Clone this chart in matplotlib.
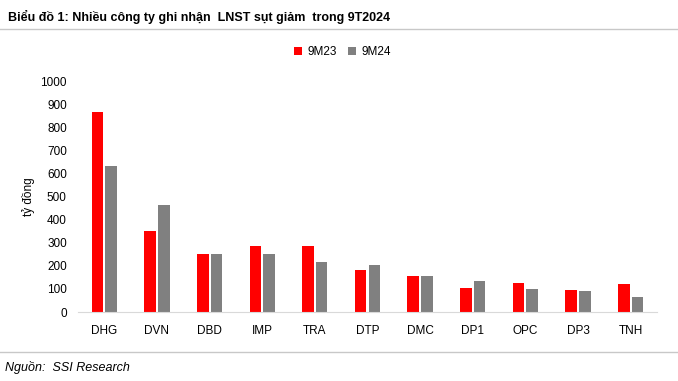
import numpy as np
import matplotlib.pyplot as plt
from matplotlib import font_manager

companies = ['DHG', 'DVN', 'DBD', 'IMP', 'TRA', 'DTP', 'DMC', 'DP1', 'OPC', 'DP3', 'TNH']
profit_9m23 = [868, 352, 252, 285, 285, 181, 157, 105, 124, 95, 120]
profit_9m24 = [635, 466, 252, 252, 218, 204, 157, 133, 100, 90, 66]
y_ticks = [0, 100, 200, 300, 400, 500, 600, 700, 800, 900, 1000]

names = {f.name for f in font_manager.fontManager.ttflist}
narrow = 'Liberation Sans Narrow' if 'Liberation Sans Narrow' in names else 'Liberation Sans'
plt.rcParams['font.family'] = [narrow, 'DejaVu Sans']

fig = plt.figure(figsize=(6.78, 3.81), dpi=100)
ax = fig.add_axes([0.115, 0.181, 0.854, 0.605])

x = np.arange(len(companies))
w = 0.22
ax.bar(x - 0.13, profit_9m23, w, color='#ff0000', label='9M23')
ax.bar(x + 0.13, profit_9m24, w, color='#808080', label='9M24')

ax.set_xlim(-0.5, len(companies) - 0.5)
ax.set_ylim(0, 1000)
ax.set_yticks(y_ticks)
ax.set_xticks(x)
ax.set_xticklabels(companies)
ax.tick_params(axis='both', length=0, labelsize=8.5, colors='black')
ax.tick_params(axis='x', pad=9)
ax.tick_params(axis='y', pad=8)
for s in ['top', 'right', 'left']:
    ax.spines[s].set_visible(False)
ax.spines['bottom'].set_color('#d9d9d9')
ax.set_ylabel('tỷ đồng', fontsize=8.5)
ax.yaxis.set_label_coords(-0.075, 0.5)

fig.legend(loc='center', bbox_to_anchor=(0.505, 0.864), ncol=2, frameon=False,
           fontsize=8.5, handlelength=0.7, handleheight=0.7, columnspacing=1.0, handletextpad=0.4)

fig.text(0.012, 0.955, 'Biểu đồ 1: Nhiều công ty ghi nhận  LNST sụt giảm  trong 9T2024',
         fontsize=9, fontweight='bold', va='center')
fig.add_artist(plt.Line2D([0, 1], [0.923, 0.923], color='#c8c8c8', lw=1))
fig.add_artist(plt.Line2D([0, 1], [0.076, 0.076], color='#c8c8c8', lw=1))
fig.text(0.008, 0.035, 'Nguồn:  SSI Research', fontsize=9, style='italic', va='center')

fig.savefig('out.png', dpi=100)
